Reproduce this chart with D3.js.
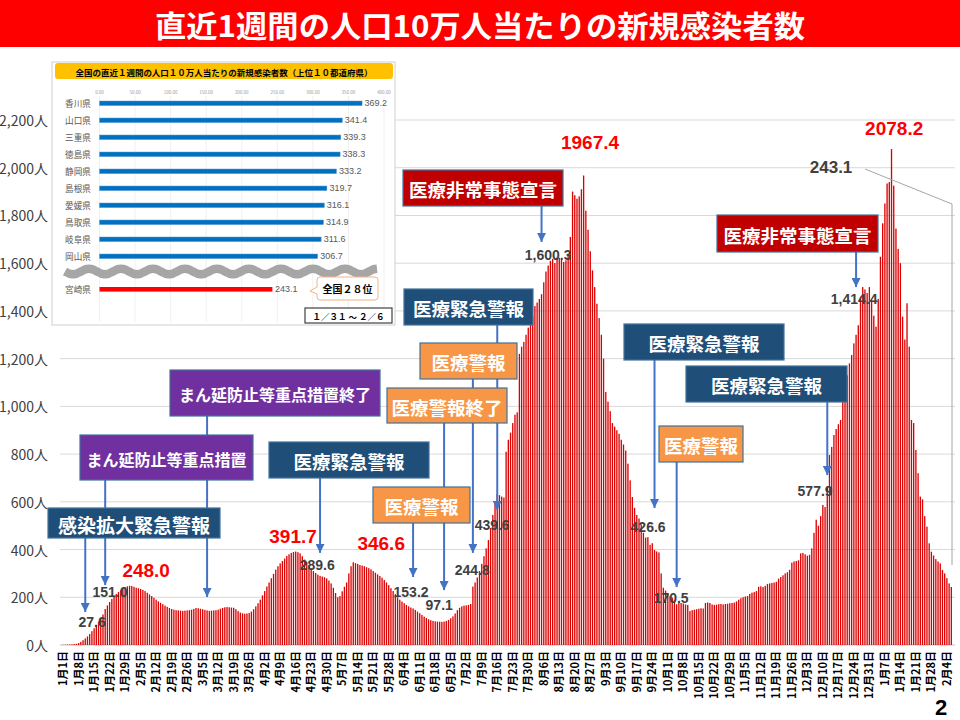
<!DOCTYPE html>
<meta charset="utf-8" />
<script src="https://d3js.org/d3.v7.min.js"></script>
<style>
  body { margin: 0; background: #fff; }
  svg { display: block; font-family: "Noto Sans CJK JP", sans-serif; }
</style>
<div id="chart"></div>
<script>
  // daily values (7-day per 100k), 2022/1/1 - 2023/2/6
  const startDate = new Date(2022, 0, 1);
  const values = [
    1, 1, 2, 2, 3, 4, 5,
    8, 13, 20, 27.6, 36, 46, 58,
    70, 84, 98, 112, 128, 151.0, 166,
    180, 193, 205, 214, 222, 230, 236,
    242, 246, 248.0, 247, 244, 240, 238,
    235, 231, 226, 219, 212, 205, 198,
    190, 183, 177, 171, 165, 160, 155,
    151, 148, 146, 145, 144, 143, 144,
    145, 146, 148, 151, 155, 154, 152,
    150, 147, 145, 143, 144, 145, 146,
    148, 152, 155, 158, 159, 158, 157,
    156, 150, 142, 136, 133, 131, 132,
    134, 140, 150, 162, 175, 190, 208,
    226, 245, 262, 280, 298, 316, 330,
    342, 352, 362, 373, 380, 386, 390,
    391.7, 389, 384, 372, 358, 347, 336,
    322, 310, 302, 295, 289.6, 287, 284,
    279, 270, 258, 240, 218, 200, 205,
    225, 244, 262, 300, 330, 346.6, 343,
    340, 335, 333, 330, 326, 322, 317,
    310, 303, 296, 289, 282, 272, 262,
    251, 238, 226, 213, 200, 190, 182,
    175, 168, 162, 157, 153.2, 147, 140,
    133, 126, 119, 113, 108, 104, 101,
    99, 98, 97.5, 97.1, 98, 101, 105,
    112, 120, 132, 146, 156, 162, 165,
    166, 168, 172, 244.8, 262, 283, 310,
    340, 372, 405, 439.6, 490, 545, 600,
    632, 628, 622, 618, 810, 860, 890,
    930, 965, 975, 1220, 1250, 1270, 1300,
    1330, 1350, 1380, 1420, 1435, 1450, 1470,
    1520, 1565, 1590, 1610, 1618, 1600.3, 1625,
    1622, 1615, 1605, 1612, 1640, 1710, 1900,
    1885, 1870, 1880, 1910, 1967.4, 1820, 1740,
    1650, 1570, 1500, 1430, 1370, 1300, 1200,
    1060, 1020, 980, 930, 915, 900, 885,
    860, 840, 815, 760, 690, 620, 575,
    545, 530, 505, 470, 450, 452, 420,
    426.6, 398, 392, 388, 300, 240, 228,
    215, 205, 198, 190, 170.5, 180, 176,
    174, 170, 168, 142, 146, 148, 150,
    152, 154, 153, 176, 178, 176, 170,
    168, 169, 171, 172, 170, 172, 173,
    175, 176, 178, 183, 190, 196, 200,
    203, 205, 214, 219, 222, 226, 244,
    246, 243, 248, 256, 258, 260, 262,
    265, 278, 285, 292, 300, 305, 315,
    345, 350, 352, 355, 384, 386, 380,
    374, 378, 405, 470, 525, 500, 540,
    587, 577.9, 665, 796, 830, 880, 905,
    925, 943, 1054, 1090, 1130, 1180, 1215,
    1264, 1300, 1340, 1460, 1500, 1490, 1475,
    1500, 1445, 1380, 1334, 1450, 1627, 1767,
    1850, 1934, 1940, 2078.2, 1925, 1745, 1660,
    1600, 1376, 1280, 1432, 1250, 943, 930,
    817, 720, 622, 610, 540, 496, 426,
    391, 375, 360, 350, 342, 314, 300,
    280, 258, 243.1
  ];
  const yTicks = [0, 200, 400, 600, 800, 1000, 1200, 1400, 1600, 1800, 2000, 2200];

  // value labels on the chart: [text, day, value, colour, size]
  const valueLabels = [
    ["27.6", 13.1, 96, "#404040", 14],
    ["151.0", 21.2, 222, "#404040", 14],
    ["248.0", 37.5, 314, "#ff0000", 19],
    ["391.7", 103.8, 453, "#ff0000", 19],
    ["289.6", 114.7, 335, "#404040", 14],
    ["346.6", 143.6, 427, "#ff0000", 19],
    ["153.2", 157.1, 222, "#404040", 14],
    ["97.1", 169.8, 168, "#404040", 14],
    ["244.8", 184.7, 314, "#404040", 14],
    ["439.6", 193.7, 503, "#404040", 14],
    ["1,600.3", 219, 1635, "#404040", 14],
    ["1967.4", 237.9, 2104, "#ff0000", 19],
    ["426.6", 264.1, 495, "#404040", 14],
    ["170.5", 274.5, 197, "#404040", 14],
    ["577.9", 339.5, 645, "#404040", 14],
    ["1,414.4", 357.1, 1450, "#404040", 14],
    ["2078.2", 375.2, 2163, "#ff0000", 19],
    ["243.1", 346.7, 2003, "#404040", 17]
  ];

  // event boxes: [text, colour, left, top, width, height, font size]
  const eventBoxes = [
    ["まん延防止等重点措置終了", "#7030A0", 170, 370, 210, 46, 16],
    ["まん延防止等重点措置", "#7030A0", 80, 435, 173, 45, 16],
    ["感染拡大緊急警報", "#1F4E79", 48, 508, 172, 30, 19],
    ["医療緊急警報", "#1F4E79", 269, 442, 160, 36, 18.5],
    ["医療警報", "#F79646", 373, 487, 97, 36, 18.5],
    ["医療警報終了", "#F79646", 387, 388, 120, 35, 18.5],
    ["医療警報", "#F79646", 420, 343, 97, 36, 18.5],
    ["医療緊急警報", "#1F4E79", 404, 289, 129, 36, 18.5],
    ["医療非常事態宣言", "#C00000", 403, 170, 160, 36, 18.5],
    ["医療緊急警報", "#1F4E79", 624, 324, 160, 36, 18.5],
    ["医療警報", "#F79646", 659, 426, 84, 36, 18.5],
    ["医療緊急警報", "#1F4E79", 686, 366, 161, 36, 18.5],
    ["医療非常事態宣言", "#C00000", 717, 215, 161, 37, 18.5]
  ];
  // arrows: [day, start y (box bottom), value at tip]
  const eventArrows = [
    [65, 416, 201], [19, 480, 251], [10, 538, 138], [116, 478, 386],
    [158, 523, 285], [172, 423, 230], [185, 379, 386], [196, 325, 566],
    [216, 206, 1689], [267, 360, 574], [277, 462, 243], [345, 402, 712],
    [358, 252, 1500]
  ];

  // inset: top 10 prefectures
  const prefNames = ["香川県", "山口県", "三重県", "徳島県", "静岡県", "島根県", "愛媛県", "鳥取県", "岐阜県", "岡山県"];
  const prefValues = [369.2, 341.4, 339.3, 338.3, 333.2, 319.7, 316.1, 314.9, 311.6, 306.7];
  const miyazaki = ["宮崎県", 243.1];
  const insetTicks = [0, 50, 100, 150, 200, 250, 300, 350, 400];

  const W = 960, H = 720;
  const svg = d3.select("#chart").append("svg").attr("width", W).attr("height", H);

  // title banner
  svg.append("rect").attr("x", 0).attr("y", 0).attr("width", W).attr("height", 47).attr("fill", "#ff0000");
  svg.append("text")
    .attr("x", 480).attr("y", 24).attr("text-anchor", "middle").attr("dominant-baseline", "central")
    .attr("fill", "#fff").style("font-size", "30px").style("font-weight", "bold")
    .attr("textLength", 650).attr("lengthAdjust", "spacingAndGlyphs")
    .text("直近1週間の人口10万人当たりの新規感染者数");

  // scales
  const x = d3.scaleBand().domain(d3.range(values.length)).range([62, 62 + values.length * 2.215])
    .paddingInner(0.4).paddingOuter(0.2);
  const y = d3.scaleLinear().domain([0, 2200]).range([645, 120]);
  const dayX = d => x(0) + d * x.step() + x.bandwidth() / 2;

  // grid
  svg.append("g").selectAll("line").data(yTicks).join("line")
    .attr("x1", 60).attr("x2", 955).attr("y1", d => y(d)).attr("y2", d => y(d))
    .attr("stroke", d => d === 0 ? "#bfbfbf" : "#d9d9d9").attr("stroke-width", 1);

  // y labels
  svg.append("g").selectAll("text").data(yTicks).join("text")
    .attr("x", 48).attr("y", d => y(d)).attr("text-anchor", "end").attr("dominant-baseline", "central")
    .attr("fill", "#404040").style("font-size", "14px")
    .text(d => d3.format(",")(d) + "人");

  // bars
  svg.append("g").selectAll("rect").data(values).join("rect")
    .attr("x", (d, i) => x(i)).attr("width", x.bandwidth())
    .attr("y", d => y(d)).attr("height", d => y(0) - y(d))
    .attr("fill", "#dd0000");

  // x tick labels (weekly)
  const fmt = d3.timeFormat("%-m月%-d日");
  const tickIdx = d3.range(0, values.length, 7);
  svg.append("g").selectAll("text").data(tickIdx).join("text")
    .attr("transform", i => `translate(${dayX(i)},651) rotate(-90)`)
    .attr("text-anchor", "end").attr("dy", "0.36em")
    .attr("fill", "#000").style("font-size", "11px").style("font-weight", "bold")
    .text(i => fmt(d3.timeDay.offset(startDate, i)));

  // arrows
  const defs = svg.append("defs");
  defs.append("marker").attr("id", "arr").attr("viewBox", "0 0 10 10")
    .attr("refX", 10).attr("refY", 5).attr("markerWidth", 4.5).attr("markerHeight", 4.5)
    .attr("markerUnits", "strokeWidth").attr("orient", "auto")
    .append("path").attr("d", "M0,0 L10,5 L0,10 z").attr("fill", "#4472C4");
  svg.append("g").selectAll("line").data(eventArrows).join("line")
    .attr("x1", d => dayX(d[0])).attr("x2", d => dayX(d[0]))
    .attr("y1", d => d[1]).attr("y2", d => y(d[2]))
    .attr("stroke", "#4472C4").attr("stroke-width", 2).attr("marker-end", "url(#arr)");

  // event boxes
  const bx = svg.append("g").selectAll("g").data(eventBoxes).join("g");
  bx.append("rect").attr("x", d => d[2]).attr("y", d => d[3]).attr("width", d => d[4]).attr("height", d => d[5])
    .attr("fill", d => d[1]).attr("stroke", "#41719C").attr("stroke-width", 1.2);
  bx.append("text").attr("x", d => d[2] + d[4] / 2).attr("y", d => d[3] + d[5] / 2 + 1)
    .attr("text-anchor", "middle").attr("dominant-baseline", "central")
    .attr("fill", "#fff").style("font-weight", "bold").style("font-size", d => d[6] + "px")
    .text(d => d[0]);

  // value labels
  svg.append("g").selectAll("text").data(valueLabels).join("text")
    .attr("x", d => dayX(d[1])).attr("y", d => y(d[2]))
    .attr("text-anchor", "middle").attr("dominant-baseline", "central")
    .attr("fill", d => d[3]).style("font-size", d => d[4] + "px").style("font-weight", "bold")
    .style("font-family", "'Liberation Sans', Arial, sans-serif")
    .text(d => d[0]);

  // connector from latest value label
  svg.append("polyline").attr("points", "865,169 952,204 952,565")
    .attr("fill", "none").attr("stroke", "#a6a6a6").attr("stroke-width", 1);

  // ---- inset ----
  const inset = svg.append("g");
  inset.append("rect").attr("x", 52).attr("y", 62).attr("width", 343).attr("height", 263)
    .attr("fill", "#fff").attr("stroke", "#d0d0d0").attr("stroke-width", 1);
  inset.append("rect").attr("x", 55).attr("y", 63).attr("width", 338).attr("height", 16).attr("rx", 3)
    .attr("fill", "#FFC000");
  inset.append("text").attr("x", 224).attr("y", 71.5).attr("text-anchor", "middle").attr("dominant-baseline", "central")
    .style("font-size", "8.5px").style("font-weight", "bold").attr("fill", "#000")
    .attr("textLength", 297).attr("lengthAdjust", "spacingAndGlyphs")
    .text("全国の直近１週間の人口１０万人当たりの新規感染者数（上位１０都道府県）");

  const ix = d3.scaleLinear().domain([0, 400]).range([99.5, 384]);
  const iy = d3.scalePoint().domain(prefNames).range([103.3, 256.3]);
  inset.append("g").selectAll("line").data(insetTicks).join("line")
    .attr("x1", d => ix(d)).attr("x2", d => ix(d)).attr("y1", 96).attr("y2", 322)
    .attr("stroke", "#ececec").attr("stroke-width", 0.8);
  inset.append("g").selectAll("text").data(insetTicks).join("text")
    .attr("x", d => ix(d)).attr("y", 92).attr("text-anchor", "middle").attr("dominant-baseline", "central")
    .attr("fill", "#9a9a9a").style("font-size", "4.5px").text(d3.format(".2f"));

  const rows = inset.append("g").selectAll("g").data(prefNames).join("g");
  rows.append("rect").attr("x", ix(0)).attr("y", d => iy(d) - 2.3)
    .attr("width", (d, i) => ix(prefValues[i]) - ix(0)).attr("height", 4.6)
    .attr("fill", "#0070C0").attr("stroke", "#5B9BD5").attr("stroke-width", 0.5);
  rows.append("text").attr("x", 78).attr("y", d => iy(d)).attr("text-anchor", "middle").attr("dominant-baseline", "central")
    .attr("fill", "#595959").style("font-size", "8.6px").text(d => d);
  rows.append("text").attr("x", (d, i) => ix(prefValues[i]) + 2.5).attr("y", d => iy(d)).attr("dominant-baseline", "central")
    .attr("fill", "#595959").style("font-size", "9px").style("font-family", "'Liberation Sans', Arial, sans-serif")
    .text((d, i) => prefValues[i].toFixed(1));

  // wavy break
  const wave = d3.range(65, 379, 2).map(px => [px, 271.5 + 2.8 * Math.sin((px - 65) / 32 * 2 * Math.PI)]);
  inset.append("path").attr("d", d3.line().curve(d3.curveBasis)(wave))
    .attr("fill", "none").attr("stroke", "#a6a6a6").attr("stroke-width", 8.5);

  // miyazaki row
  const my = 289.3;
  inset.append("rect").attr("x", ix(0)).attr("y", my - 2.3).attr("width", ix(miyazaki[1]) - ix(0)).attr("height", 4.6)
    .attr("fill", "#ff0000");
  inset.append("text").attr("x", 78).attr("y", my).attr("text-anchor", "middle").attr("dominant-baseline", "central")
    .attr("fill", "#595959").style("font-size", "8.6px").text(miyazaki[0]);
  inset.append("text").attr("x", ix(miyazaki[1]) + 2.5).attr("y", my).attr("dominant-baseline", "central")
    .attr("fill", "#595959").style("font-size", "9px").style("font-family", "'Liberation Sans', Arial, sans-serif")
    .text(miyazaki[1].toFixed(1));

  // callout 全国28位
  inset.append("path")
    .attr("d", "M320,277 H375 Q378,277 378,280 V297 Q378,300 375,300 H320 Q317,300 317,297 V294 L310,291 L317,287 V280 Q317,277 320,277 Z")
    .attr("fill", "#fff").attr("stroke", "#F4B183").attr("stroke-width", 1);
  inset.append("text").attr("x", 347.5).attr("y", 288.5).attr("text-anchor", "middle").attr("dominant-baseline", "central")
    .style("font-size", "10px").style("font-weight", "bold").attr("fill", "#000").text("全国２８位");

  // date box
  inset.append("rect").attr("x", 305).attr("y", 308).attr("width", 87).attr("height", 15)
    .attr("fill", "#fff").attr("stroke", "#404040").attr("stroke-width", 1.2);
  inset.append("text").attr("x", 348.5).attr("y", 315.8).attr("text-anchor", "middle").attr("dominant-baseline", "central")
    .style("font-size", "8.5px").style("font-weight", "bold").attr("fill", "#000").text("１／３１ ～ ２／６");

  // page number
  svg.append("text").attr("x", 941).attr("y", 715).attr("text-anchor", "middle")
    .style("font-size", "22px").style("font-weight", "bold").style("font-family", "'Liberation Sans', Arial, sans-serif")
    .attr("fill", "#000").text("2");
</script>
